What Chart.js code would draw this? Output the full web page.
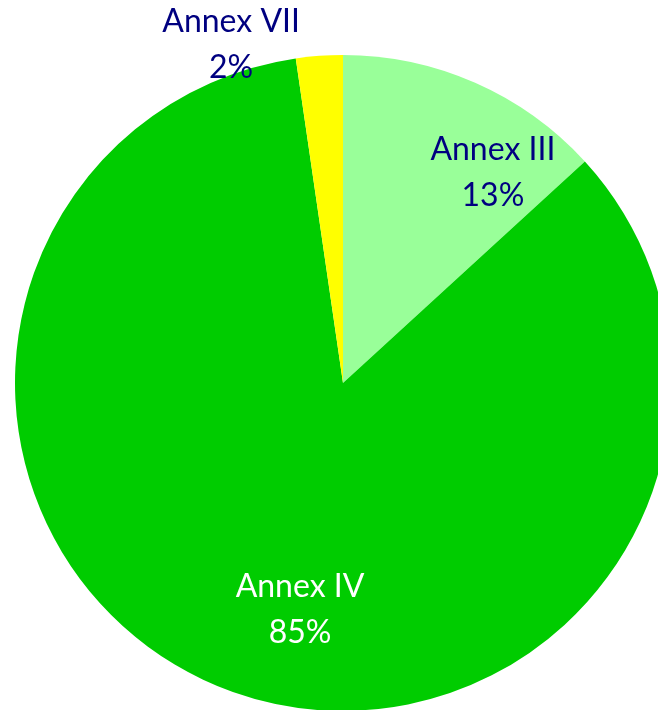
<!DOCTYPE html>
<html>
<head>
<meta charset="utf-8">
<script src="https://cdn.jsdelivr.net/npm/chart.js@4/dist/chart.umd.min.js"></script>
<style>
html,body{margin:0;padding:0;background:#fff;overflow:hidden;width:658px;height:710px;}
canvas{display:block;}
</style>
</head>
<body>
<canvas id="c" width="686" height="766" style="width:686px;height:766px"></canvas>
<script>
const categories = ['Annex III', 'Annex IV', 'Annex VII'];
const shares = [13.2, 84.5, 2.3];
const percentLabels = ['13%', '85%', '2%'];

const sliceColors = ['#99FF99', '#00CC00', '#FFFF00'];
const labelColors = ['#000080', '#FFFFFF', '#000080'];
// label block centre relative to pie centre, in units of radius
const labelOffsets = [[0.457, -0.64], [-0.131, 0.69], [-0.341, -1.03]];

const labelPlugin = {
  id: 'sliceLabels',
  afterDatasetsDraw(chart) {
    const ctx = chart.ctx;
    const meta = chart.getDatasetMeta(0);
    ctx.save();
    ctx.font = '32px Lato';
    ctx.textAlign = 'center';
    ctx.textBaseline = 'middle';
    meta.data.forEach((arc, i) => {
      const r = arc.outerRadius;
      const cx = arc.x + labelOffsets[i][0] * r;
      const cy = arc.y + labelOffsets[i][1] * r;
      ctx.fillStyle = labelColors[i];
      ctx.fillText(categories[i], cx, cy - 23);
      ctx.fillText(percentLabels[i], cx, cy + 23);
    });
    ctx.restore();
  }
};

new Chart(document.getElementById('c'), {
  type: 'pie',
  data: {
    labels: categories,
    datasets: [{
      data: shares,
      backgroundColor: sliceColors,
      borderWidth: 0
    }]
  },
  options: {
    responsive: false,
    animation: false,
    layout: { padding: { top: 55, bottom: 55, left: 15, right: 15 } },
    plugins: { legend: { display: false }, tooltip: { enabled: false } }
  },
  plugins: [labelPlugin]
});
</script>
</body>
</html>
